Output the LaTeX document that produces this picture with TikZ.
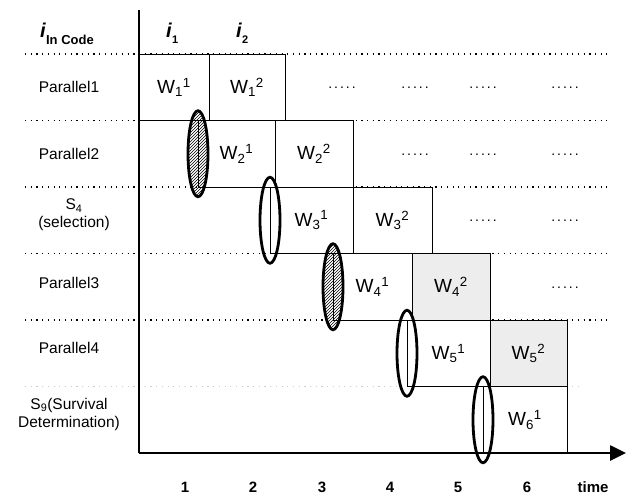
\documentclass[tikz,border=0pt]{standalone}
\usepackage{fontspec}
\setmainfont{Liberation Sans}
\usetikzlibrary{shapes.geometric,patterns,arrows.meta}
\begin{document}
\begin{tikzpicture}[x=1pt,y=-1pt,
  wbox/.style={draw, line width=0.9pt, fill=white, minimum height=66.5pt, inner sep=0pt, font=\fontsize{19}{21}\selectfont},
  shadedbox/.style={wbox, fill=gray!14},
  selell/.style={ellipse, draw, line width=2.8pt, minimum width=20pt, minimum height=86pt, inner sep=0pt},
  hatchell/.style={selell, pattern=north east lines},
  rowlab/.style={font=\fontsize{15.5}{18}\selectfont, align=center},
  dotrow/.style={line width=1.2pt, dash pattern=on 1.2pt off 4.5pt},
  morelab/.style={font=\fontsize{14}{16}\selectfont\addfontfeature{LetterSpace=14}},
  ticklab/.style={font=\bfseries\fontsize{15}{17}\selectfont},
  headlab/.style={font=\bfseries\fontsize{20}{22}\selectfont}
]
\useasboundingbox (0,0) rectangle (629,497);

% dotted row separators
\foreach \yy in {54,120.5,187,253.5,320}{
  \draw[dotrow] (25,\yy) -- (607,\yy);
}
\draw[dotrow, gray!40] (25,386.5) -- (582,386.5);

% headers
\node[headlab, anchor=base west, inner sep=0pt] (hcode) at (40,38) {\textit{i}\raisebox{-7pt}{\fontsize{13}{15}\selectfont In Code}};
\node[headlab, anchor=base west, inner sep=0pt] (hi1) at (166,38) {\textit{i}\raisebox{-6pt}{\fontsize{11}{13}\selectfont 1}};
\node[headlab, anchor=base west, inner sep=0pt] (hi2) at (236,38) {\textit{i}\raisebox{-6pt}{\fontsize{11}{13}\selectfont 2}};

% row labels
\node[rowlab] (r1) at (69,87.25) {Parallel1};
\node[rowlab] (r2) at (69,153.75) {Parallel2};
\node[rowlab] (r3) at (74,215) {S\textsubscript{4}\\(selection)};
\node[rowlab] (r4) at (69,282.75) {Parallel3};
\node[rowlab] (r5) at (69,348.25) {Parallel4};
\node[rowlab] (r6) at (69,414) {S\textsubscript{9}(Survival\\Determination)};

% boxes
\node[wbox, minimum width=70pt] (w11) at (174,87.25) {W\textsubscript{1}\textsuperscript{1}};
\node[wbox, minimum width=76pt] (w12) at (247,87.25) {W\textsubscript{1}\textsuperscript{2}};
\node[wbox, minimum width=77pt] (w21) at (236.5,153.75) {W\textsubscript{2}\textsuperscript{1}};
\node[wbox, minimum width=78pt] (w22) at (314,153.75) {W\textsubscript{2}\textsuperscript{2}};
\node[wbox, minimum width=83pt] (w31) at (311.5,220.25) {W\textsubscript{3}\textsuperscript{1}};
\node[wbox, minimum width=79pt] (w32) at (392.5,220.25) {W\textsubscript{3}\textsuperscript{2}};
\node[wbox, minimum width=79pt] (w41) at (372.5,286.75) {W\textsubscript{4}\textsuperscript{1}};
\node[shadedbox, minimum width=78pt] (w42) at (451,286.75) {W\textsubscript{4}\textsuperscript{2}};
\node[wbox, minimum width=83pt] (w51) at (448.5,353.25) {W\textsubscript{5}\textsuperscript{1}};
\node[shadedbox, minimum width=77pt] (w52) at (528.5,353.25) {W\textsubscript{5}\textsuperscript{2}};
\node[wbox, minimum width=84pt] (w61) at (525,419.75) {W\textsubscript{6}\textsuperscript{1}};

% continuation dots
\node[morelab] (d11) at (342,88) {.....};
\node[morelab] (d12) at (415,88) {.....};
\node[morelab] (d13) at (483,88) {.....};
\node[morelab] (d14) at (565,88) {.....};
\node[morelab] (d21) at (415,154.5) {.....};
\node[morelab] (d22) at (483,154.5) {.....};
\node[morelab] (d23) at (565,154.5) {.....};
\node[morelab] (d31) at (483,221) {.....};
\node[morelab] (d32) at (565,221) {.....};
\node[morelab] (d41) at (565,287.5) {.....};

% axes
\coordinate (otop) at (139,10);
\coordinate (orig) at (139,453);
\coordinate (tend) at (626,453);
\draw[line width=2.6pt] (otop) -- (orig);
\draw[line width=2.6pt, -{Triangle[length=16pt,width=15pt]}] (orig) -- (tend);

% selection ellipses
\node[hatchell] (e1) at (198,153.75) {};
\node[selell] (e2) at (270,220.25) {};
\node[hatchell] (e3) at (333,286.75) {};
\node[selell] (e4) at (407,353.25) {};
\node[selell] (e5) at (483,419.75) {};

% time labels
\node[ticklab] (t1) at (185,487) {1};
\node[ticklab] (t2) at (253,487) {2};
\node[ticklab] (t3) at (322,487) {3};
\node[ticklab] (t4) at (390,487) {4};
\node[ticklab] (t5) at (458,487) {5};
\node[ticklab] (t6) at (527,487) {6};
\node[ticklab] (ttime) at (593,487) {time};
\end{tikzpicture}
\end{document}
